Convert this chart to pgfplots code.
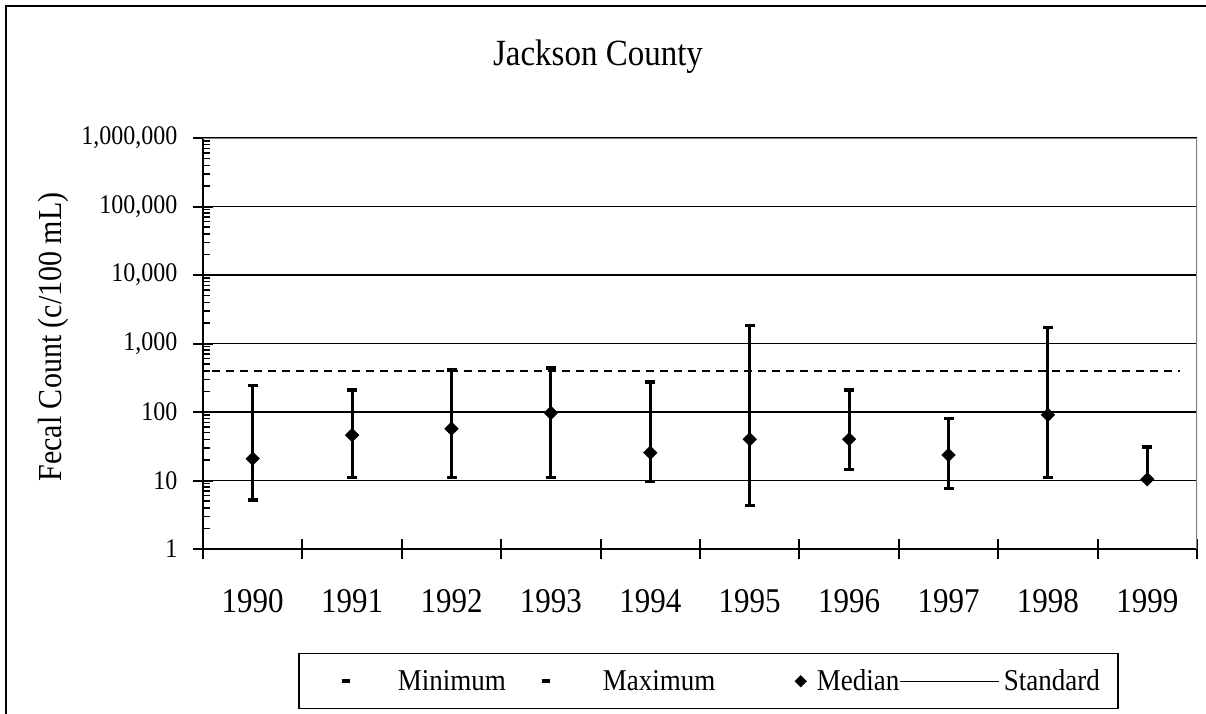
\documentclass[border=0pt]{standalone}
\usepackage{fontspec}
\setmainfont{Liberation Serif}
\usepackage{graphicx}
\usepackage{pgfplots}
\usepackage{pgfplotstable}
\pgfplotsset{compat=1.18}

% the reference font is a little taller than Times
\newcommand{\tall}[1]{\scalebox{1}[1.12]{#1}}

% year index, minimum, median, maximum (c/100 mL)
\pgfplotstableread{
x min med max
0 5.2 20.8 242
1 11 46 210
2 11 57 410
3 11 97 440
4 9.6 25.5 273
5 4.3 40 1820
6 14.4 40 210
7 7.6 23.6 81
8 11 91 1700
9 10 10.4 31
}\fecal

\begin{document}
\begin{tikzpicture}
\path[use as bounding box] (0bp,0bp) rectangle (1206bp,-714bp);
\draw[line width=2.5bp] (6bp,-714bp) -- (6bp,-6bp) -- (1206bp,-6bp);
\node[font=\fontsize{33bp}{38bp}\selectfont] at (598bp,-57bp) {\tall{Jackson County}};

\begin{axis}[
    at={(203bp,-549bp)}, anchor=south west,
    scale only axis, width=994bp, height=411bp,
    ymode=log, ymin=1, ymax=1000000,
    xmin=-0.5, xmax=9.5,
    axis lines*=left,
    axis line style={line width=2.5bp},
    ytick={1,10,100,1000,10000,100000,1000000},
    yticklabels={\tall{1},\tall{10},\tall{100},\tall{1,000},\tall{10,000},\tall{100,000},\tall{1,000,000}},
    minor ytick={2,3,4,5,6,7,8,9,20,30,40,50,60,70,80,90,200,300,400,500,600,700,800,900,
                 2000,3000,4000,5000,6000,7000,8000,9000,20000,30000,40000,50000,60000,70000,80000,90000,
                 200000,300000,400000,500000,600000,700000,800000,900000},
    xtick={-0.5,0.5,...,9.5},
    xticklabels={},
    extra x ticks={0,1,2,3,4,5,6,7,8,9},
    extra x tick labels={\tall{1990},\tall{1991},\tall{1992},\tall{1993},\tall{1994},
                         \tall{1995},\tall{1996},\tall{1997},\tall{1998},\tall{1999}},
    extra x tick style={tick style={draw=none}},
    tick align=center,
    major tick length=20bp,
    minor tick length=7bp,
    tick style={black, line width=2bp},
    minor y tick style={xshift=3.5bp, line width=1.5bp},
    ymajorgrids,
    major grid style={black, line width=1.3bp},
    /pgf/number format/assume math mode=true,
    yticklabel style={font=\fontsize{24bp}{28bp}\selectfont, xshift=-12bp},
    xticklabel style={font=\fontsize{31bp}{36bp}\selectfont, yshift=-27bp},
    ylabel={\tall{Fecal Count (c/100 mL)}},
    every axis y label/.style={at={(rel axis cs:-0.150,0.516)}, rotate=90, anchor=center,
        font=\fontsize{30bp}{34bp}\selectfont},
    legend columns=4,
    legend style={at={(0.0956,-0.253)}, anchor=north west, draw=black, line width=1.5bp,
        inner xsep=0bp, inner ysep=0bp, font=\fontsize{27bp}{31bp}\selectfont,
        nodes={inner sep=0bp, minimum height=55bp},
        /tikz/every even column/.append style={column sep=0bp},
        /tikz/every odd column/.append style={column sep=0bp}},
]
% high-low lines
\addplot[forget plot, black, line width=3bp, empty line=jump] table[x=x, y=y] {
x y
0 5.2
0 242

1 11
1 210

2 11
2 410

3 11
3 440

4 9.6
4 273

5 4.3
5 1820

6 14.4
6 210

7 7.6
7 81

8 11
8 1700

9 10
9 31
};

\addplot[only marks, black, mark=-, mark size=5bp, mark options={line width=3.5bp},
    legend image code/.code={\path[draw=none, fill=none] (0bp,-5bp) rectangle (99bp,5bp);
        \draw[solid, line width=4bp] (43bp,0bp) -- (51bp,0bp);}]
    table[x=x, y=min] {\fecal};
\addlegendentry{\makebox[112bp][l]{\tall{Minimum}}}

\addplot[only marks, black, mark=-, mark size=5bp, mark options={line width=3.5bp},
    legend image code/.code={\path[draw=none, fill=none] (0bp,-5bp) rectangle (93bp,5bp);
        \draw[solid, line width=4bp] (32bp,0bp) -- (40bp,0bp);}]
    table[x=x, y=max] {\fecal};
\addlegendentry{\makebox[110bp][l]{\tall{Maximum}}}

\addplot[only marks, black, mark=square*, mark size=4.8bp, mark options={rotate=45},
    legend image code/.code={\path[draw=none, fill=none] (0bp,-5bp) rectangle (104bp,5bp);
        \fill (88bp,5bp) -- (93bp,0bp) -- (88bp,-5bp) -- (83bp,0bp) -- cycle;}]
    table[x=x, y=med] {\fecal};
\addlegendentry{\makebox[80bp][l]{\tall{Median}}}

\addplot[black, line width=1.5bp, dash pattern=on 8bp off 6bp,
    legend image code/.code={\path[draw=none, fill=none] (0bp,-5bp) rectangle (107bp,5bp);
        \draw[solid, line width=1bp] (3bp,0bp) -- (102bp,0bp);}]
    coordinates {(-0.41,400) (9.33,400)};
\addlegendentry{\makebox[114bp][l]{\tall{Standard}}}

\draw[gray, line width=2bp] (rel axis cs:0,1) -- (rel axis cs:1,1) -- (rel axis cs:1,0);
\end{axis}
\end{tikzpicture}
\end{document}
